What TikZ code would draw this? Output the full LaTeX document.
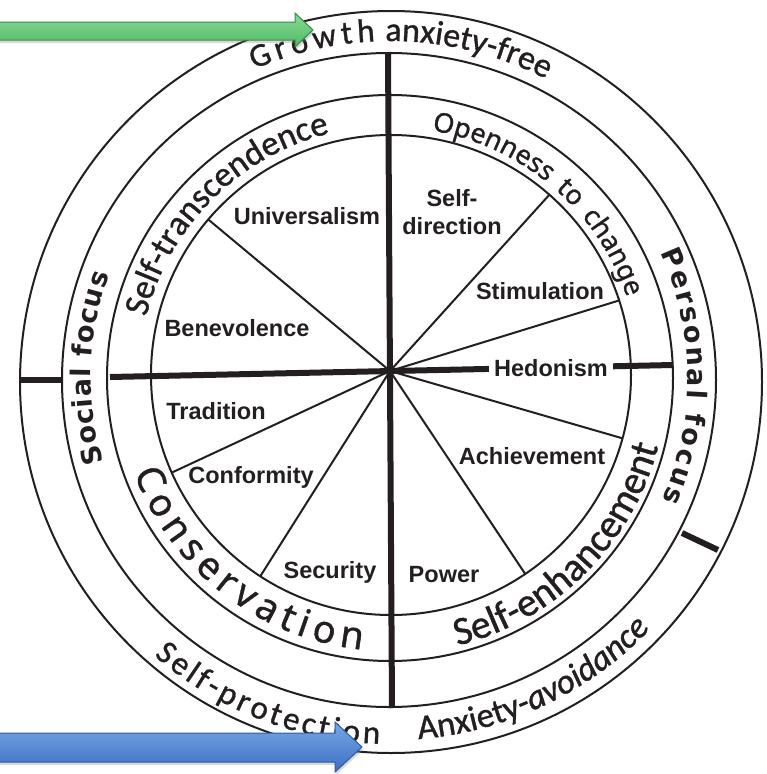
\documentclass[tikz,border=0pt]{standalone}
\usepackage{fontspec}
\setmainfont{Liberation Sans}
\newfontfamily\carl{Carlito}[FakeBold=1]
\newfontfamily\nsans{Noto Sans}[FakeBold=1]
\newfontfamily\dvs{DejaVu Sans}
\usetikzlibrary{decorations.text,shadows}
\definecolor{ink}{HTML}{231F20}
\definecolor{gtop}{HTML}{86DA93}
\definecolor{gbot}{HTML}{52B866}
\definecolor{gedge}{HTML}{3A8A4A}
\definecolor{btop}{HTML}{77A6E6}
\definecolor{bbot}{HTML}{3C70C2}
\definecolor{bedge}{HTML}{2F5E9E}
\begin{document}
\begin{tikzpicture}[x=1pt,y=1pt,
  ring/.style={draw=ink, line width=2pt},
  spoke/.style={draw=ink, line width=2pt},
  bar/.style={draw=ink, line width=6pt},
  val/.style={font=\bfseries\fontsize{23.5}{28}\selectfont, text=ink, inner sep=0pt, align=center},
  arrowshadow/.style={drop shadow={shadow xshift=1pt, shadow yshift=-3pt, opacity=0.3}}
]
\useasboundingbox (0,0) rectangle (767,-774);
\fill[white] (0,0) rectangle (767,-774);

% circles
\coordinate (c1) at (391,-375);
\coordinate (c2) at (390,-378);
\coordinate (c3) at (389,-380);
\coordinate (c4) at (391,-382);
\draw[ring] (c1) circle[radius=240];
\draw[ring] (c2) circle[radius=283];
\draw[ring] (c3) circle[radius=327];
\draw[ring] (c4) circle[radius=371];

% spokes
\coordinate (O) at (390,-371);
\foreach \a in {139.6,48.7,18.1,-15.3,-56,237,204}
  \draw[spoke] (O) -- ([shift={(\a:240)}]c1);

% thick bars
\coordinate (vt) at (388,-52);
\coordinate (vb) at (392,-708);
\coordinate (hl) at (110,-377);
\coordinate (hr) at (673,-365);
\draw[bar] (vt) -- (vb);
\draw[bar] (hl) -- (hr);
\coordinate (sl1) at (20,-380);
\coordinate (sl2) at (63,-380);
\draw[bar] (sl1) -- (sl2);
\coordinate (sr1) at (682,-533);
\coordinate (sr2) at (718,-550);
\draw[bar] (sr1) -- (sr2);

% value labels
\node[val] (univ) at (307,-216) {Universalism};
\node[val] (sdir) at (452,-212) {Self-\\direction};
\node[val] (stim) at (540,-291) {Stimulation};
\node[val, fill=white, inner xsep=5pt, inner ysep=3pt] (hedo) at (551,-368) {Hedonism};
\node[val] (achi) at (532,-456) {Achievement};
\node[val] (powe) at (444,-575) {Power};
\node[val] (secu) at (330,-572) {Security};
\node[val] (conf) at (251,-477) {Conformity};
\node[val] (trad) at (216,-411) {Tradition};
\node[val] (bene) at (237,-328) {Benevolence};

% curved labels, inner band
\path[shift={(390,-377)}, decorate, decoration={text along path, text align={fit to path stretching spaces}, text color=ink,
  text={|\nsans\fontsize{27}{27}\selectfont|Openness to change}}]
  (80.4:250) arc[start angle=80.4, end angle=18.6, radius=250];
\path[shift={(390,-377)}, decorate, decoration={text along path, text align=center, text color=ink,
  text={|\carl\fontsize{35}{35}\selectfont|Self-transcendence}}]
  (225:251) arc[start angle=225, end angle=45, radius=251];
\path[shift={(390,-377)}, decorate, decoration={text along path, text align=center, text color=ink,
  text={|\carl\fontsize{40}{40}\selectfont|Self-enhancement}}]
  (-135.2:277) arc[start angle=-135.2, end angle=44.8, radius=277];
\path[shift={(390,-378)}, decorate, decoration={text along path, text align={fit to path}, text color=ink,
  text={|\nsans\fontsize{38}{38}\selectfont|Conservation}}]
  (200.3:273) arc[start angle=200.3, end angle=264.1, radius=273];

% middle band
\path[shift={(390,-378)}, decorate, decoration={text along path, text align={fit to path}, text color=ink,
  text={|\dvs\bfseries\fontsize{27}{27}\selectfont|Social focus}}]
  (196.4:299) arc[start angle=196.4, end angle=159.8, radius=299];
\path[shift={(390,-378)}, decorate, decoration={text along path, text align={fit to path}, text color=ink,
  text={|\dvs\bfseries\fontsize{27}{27}\selectfont|Personal focus}}]
  (24.8:298) arc[start angle=24.8, end angle=-24.2, radius=298];

% outer band
\path[shift={(390,-380)}, decorate, decoration={text along path, text align={fit to path}, text color=ink,
  text={|\carl\fontsize{33}{33}\selectfont|Growth}}]
  (113.6:339) arc[start angle=113.6, end angle=92.5, radius=339];
\path[shift={(390,-380)}, decorate, decoration={text along path, text align=center, text color=ink,
  text={|\carl\fontsize{34}{34}\selectfont|anxiety-free}}]
  (166.7:339) arc[start angle=166.7, end angle=-13.3, radius=339];
\path[shift={(391,-382)}, decorate, decoration={text along path, text align={fit to path}, text color=ink,
  text={|\carl\fontsize{33}{33}\selectfont|Self-protection}}]
  (229.1:362) arc[start angle=229.1, end angle=268.2, radius=362];
\path[shift={(391,-382)}, decorate, decoration={text along path, text align=center, text color=ink,
  text={|\carl\fontsize{35}{35}\selectfont|Anxiety-|\carl\itshape\fontsize{35}{35}\selectfont|avoidance}}]
  (-154.6:358) arc[start angle=-154.6, end angle=25.4, radius=358];

% arrows
\shadedraw[arrowshadow, top color=gtop, bottom color=gbot, draw=gedge, line width=1pt]
  (-3,-22) -- (295,-22) -- (295,-13) -- (313,-30) -- (295,-47) -- (295,-40) -- (-3,-40) -- cycle;
\shadedraw[arrowshadow, top color=btop, bottom color=bbot, draw=bedge, line width=1pt]
  (-3,-733) -- (335,-733) -- (335,-722) -- (362,-747) -- (335,-772) -- (335,-762) -- (-3,-762) -- cycle;
\end{tikzpicture}
\end{document}
